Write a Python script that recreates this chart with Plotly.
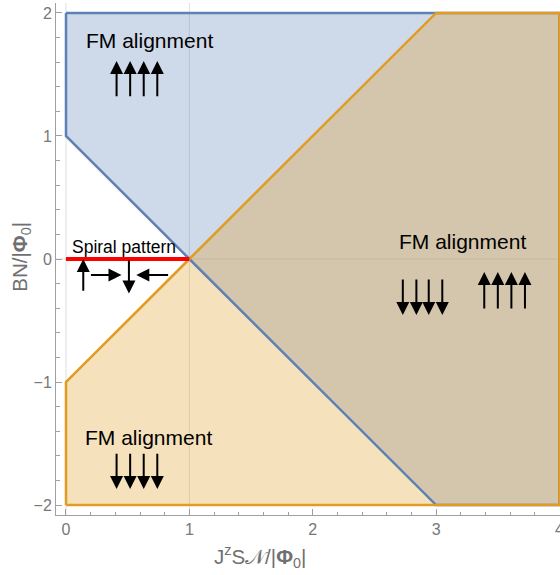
import plotly.graph_objects as go

# Region boundaries (x = J^z S N/|Phi0|, y = BN/|Phi0|)
blue_x = [0, 0, 1, 3, 4, 4, 0]
blue_y = [2, 1, 0, -2, -2, 2, 2]
orange_x = [0, 0, 1, 3, 4, 4, 0]
orange_y = [-2, -1, 0, 2, 2, -2, -2]
spiral_x = [0, 1]
spiral_y = [0, 0]

# Labels: (text, x, y, size)
labels = [
    ("FM alignment", 0.68, 1.78, 21),
    ("FM alignment", 3.21, 0.14, 21),
    ("FM alignment", 0.67, -1.455, 21),
    ("Spiral pattern", 0.47, 0.095, 17.5),
]

# Spin arrows: (tail_x, tail_y, head_x, head_y)
arrows = []
for xv in [0.41, 0.52, 0.63, 0.74]:
    arrows.append((xv, 1.31, xv, 1.61))      # up, top-left
    arrows.append((xv, -1.57, xv, -1.87))    # down, bottom-left
for xv in [2.73, 2.84, 2.94, 3.05]:
    arrows.append((xv, -0.155, xv, -0.455))  # down, right
for xv in [3.39, 3.50, 3.61, 3.72]:
    arrows.append((xv, -0.415, xv, -0.105))  # up, right
# spiral
arrows += [
    (0.14, -0.27, 0.14, 0.0),
    (0.19, -0.13, 0.45, -0.13),
    (0.51, 0.0, 0.51, -0.28),
    (0.84, -0.13, 0.57, -0.13),
]

BLUE = "#5e81b5"
ORANGE = "#e19c24"

fig = go.Figure()
fig.add_trace(go.Scatter(x=blue_x, y=blue_y, fill="toself", mode="none",
                         fillcolor="rgba(94,129,181,0.3)", hoverinfo="skip"))
fig.add_trace(go.Scatter(x=orange_x, y=orange_y, fill="toself", mode="none",
                         fillcolor="rgba(225,156,36,0.3)", hoverinfo="skip"))
fig.add_trace(go.Scatter(x=blue_x, y=blue_y, mode="lines",
                         line=dict(color=BLUE, width=2.5), hoverinfo="skip"))
fig.add_trace(go.Scatter(x=orange_x, y=orange_y, mode="lines",
                         line=dict(color=ORANGE, width=2.5), hoverinfo="skip"))
fig.add_trace(go.Scatter(x=spiral_x, y=spiral_y, mode="lines",
                         line=dict(color="#ff0000", width=4), hoverinfo="skip"))

# grid lines
for gx in [0, 1]:
    fig.add_shape(type="line", x0=gx, x1=gx, y0=-2.2, y1=2.2, xref="x", yref="y",
                  line=dict(color="rgba(0,0,0,0.13)", width=1), layer="below")
fig.add_shape(type="line", x0=-0.2, x1=4.2, y0=0, y1=0, xref="x", yref="y",
              line=dict(color="rgba(0,0,0,0.13)", width=1), layer="below")

FONT = "Liberation Sans, Arial, sans-serif"
for t, x, y, s in labels:
    fig.add_annotation(x=x, y=y, text=t, showarrow=False,
                       font=dict(family=FONT, size=s, color="black"))
for tx, ty, hx, hy in arrows:
    fig.add_annotation(x=hx, y=hy, ax=tx, ay=ty, axref="x", ayref="y",
                       xref="x", yref="y", text="", showarrow=True,
                       arrowhead=2, arrowsize=1.3, arrowwidth=2,
                       arrowcolor="black", standoff=0, startstandoff=0)

# axis titles
TITLE_FONT = dict(family=FONT, size=20.5, color="#707070")
fig.add_annotation(xref="paper", yref="paper", x=0.405, y=-0.082,
                   text="J<sup>z</sup>S𝒩/|<b>Φ</b><sub>0</sub>|",
                   showarrow=False, font=TITLE_FONT, xanchor="center", yanchor="middle")
fig.add_annotation(xref="paper", yref="paper", x=-0.07, y=0.504,
                   text="BN/|<b>Φ</b><sub>0</sub>|", textangle=-90,
                   showarrow=False, font=TITLE_FONT, xanchor="center", yanchor="middle")

axis_common = dict(
    showgrid=False, zeroline=False, showline=True, linecolor="#a0a0a0",
    linewidth=1, ticks="inside", ticklen=6, tickcolor="#a0a0a0",
    tickfont=dict(family=FONT, size=16, color="#777777"),
    minor=dict(ticks="inside", dtick=0.2, ticklen=3.5, tickcolor="#a0a0a0"),
    mirror=False, automargin=False, ticklabeloverflow="allow",
)
fig.update_xaxes(range=[-0.081, 4.004], tickvals=[0, 1, 2, 3, 4], **axis_common)
fig.update_yaxes(range=[-2.081, 2.081], tickvals=[-2, -1, 0, 1, 2], **axis_common)
fig.update_layout(width=560, height=575, showlegend=False,
                  plot_bgcolor="white", paper_bgcolor="white",
                  margin=dict(l=56, r=0, t=3, b=60))
fig.write_html("out.html", config={"displayModeBar": False},
               post_script="document.body.style.margin='0';document.body.style.overflow='hidden';")
